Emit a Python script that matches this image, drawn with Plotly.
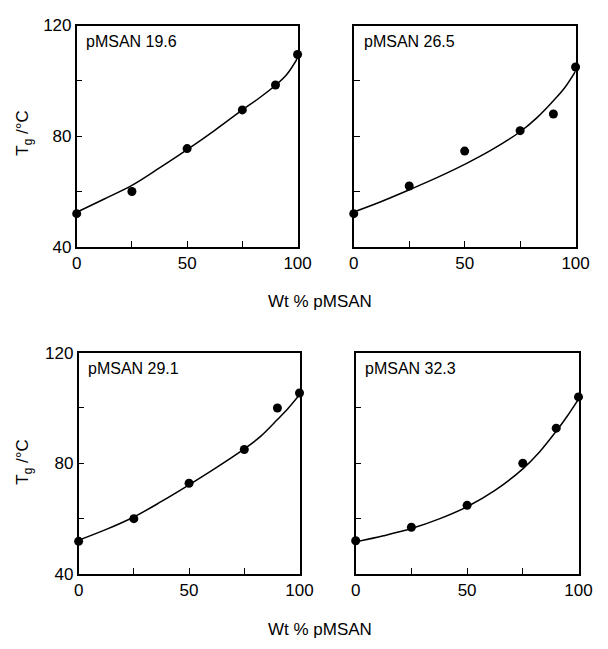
import plotly.graph_objects as go

# ---- data ----
panel_labels = ["pMSAN 19.6", "pMSAN 26.5", "pMSAN 29.1", "pMSAN 32.3"]
x_points = [0, 25, 50, 75, 90, 100]
y_p1 = [52, 60, 75.5, 89.5, 98.5, 109.5]
y_p2 = [52, 62, 74.6, 82, 88, 105]
y_p3 = [51.8, 60, 72.8, 85, 100, 105.4]
y_p4 = [52, 56.9, 64.8, 80, 92.7, 104]

x_curve = [0, 12.5, 25, 37.5, 50, 62.5, 75, 82.5, 90, 95, 100]
c_p1 = [52.5, 57.3, 62.2, 68.5, 75.1, 82.1, 89.5, 93.7, 98.4, 102.2, 108.2]
c_p2 = [52.6, 56.4, 60.6, 65, 69.8, 75.2, 81.6, 86.6, 92.8, 97.4, 103.5]
c_p3 = [52.2, 56.1, 60.6, 66.2, 72.2, 78.5, 85.2, 89.8, 95.8, 100, 104.8]
c_p4 = [51.6, 53.8, 56.4, 59.9, 64.3, 70.2, 78, 84.1, 91.6, 97.1, 103.2]

x_tickvals = [0, 25, 50, 75, 100]
x_ticktext = ["0", "", "50", "", "100"]
y_tickvals = [40, 60, 80, 100, 120]
y_ticktext = ["40", "", "80", "", "120"]

W, H = 608, 649
FONT = "Liberation Sans"

# pixel boxes (left, right, top, bottom)
boxes = [(74, 302, 17, 245), (360, 589, 17, 245), (76, 304, 354, 582), (362, 592, 354, 582)]

fig = go.Figure()
points = [y_p1, y_p2, y_p3, y_p4]
curves = [c_p1, c_p2, c_p3, c_p4]

for i in range(4):
    xa = "x" if i == 0 else f"x{i+1}"
    ya = "y" if i == 0 else f"y{i+1}"
    fig.add_trace(go.Scatter(x=x_curve, y=curves[i], mode="lines",
                             line=dict(color="black", width=1.5, shape="spline", smoothing=1.0),
                             xaxis=xa, yaxis=ya, showlegend=False, hoverinfo="skip"))
    fig.add_trace(go.Scatter(x=x_points, y=points[i], mode="markers",
                             marker=dict(color="black", size=9),
                             xaxis=xa, yaxis=ya, showlegend=False, cliponaxis=False))
    l, r, t, b = boxes[i]
    xkey = "xaxis" if i == 0 else f"xaxis{i+1}"
    ykey = "yaxis" if i == 0 else f"yaxis{i+1}"
    fig.layout[xkey] = dict(
        domain=[l / W, r / W], anchor=ya, range=[0, 100],
        showline=True, linecolor="black", linewidth=1.5, mirror=True,
        showgrid=False, zeroline=False,
        tickmode="array", tickvals=x_tickvals, ticktext=x_ticktext,
        ticks="inside", ticklen=6, tickcolor="black", tickwidth=1.2,
        tickfont=dict(family=FONT, size=17, color="black"),
    )
    left_panel = i in (0, 2)
    fig.layout[ykey] = dict(
        domain=[1 - b / H, 1 - t / H], anchor=xa, range=[40, 120],
        showline=True, linecolor="black", linewidth=1.5, mirror=True,
        showgrid=False, zeroline=False,
        tickmode="array", tickvals=y_tickvals,
        ticktext=y_ticktext if left_panel else [""] * 5,
        showticklabels=left_panel,
        ticks="inside", ticklen=6, tickcolor="black", tickwidth=1.2,
        tickfont=dict(family=FONT, size=17, color="black"),
    )
    fig.add_annotation(x=(l + 8) / W, y=1 - (t + 16) / H, xref="paper", yref="paper",
                       text=panel_labels[i], showarrow=False, xanchor="left", yanchor="middle",
                       font=dict(family=FONT, size=16, color="black"))

# axis titles
for yc in (301, 639):
    fig.add_annotation(x=325 / W, y=1 - yc / H, xref="paper", yref="paper",
                       text="Wt % pMSAN", showarrow=False, xanchor="center", yanchor="middle",
                       font=dict(family=FONT, size=17, color="black"))
for yc in (127, 466):
    fig.add_annotation(x=20 / W, y=1 - yc / H, xref="paper", yref="paper",
                       text="T<sub>g</sub> /°C", showarrow=False, textangle=-90,
                       xanchor="center", yanchor="middle",
                       font=dict(family=FONT, size=17, color="black"))

fig.update_layout(width=W, height=H, margin=dict(l=0, r=0, t=0, b=0),
                  plot_bgcolor="white", paper_bgcolor="white", showlegend=False)

fig.write_html("out.html")
